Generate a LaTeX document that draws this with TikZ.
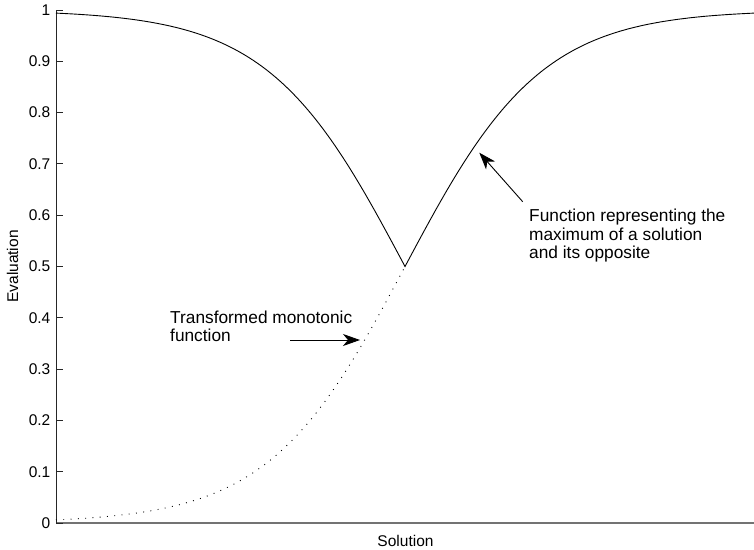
\documentclass[tikz,border=0pt]{standalone}
\usepackage{fontspec}
\setmainfont{Liberation Sans}
\usetikzlibrary{arrows.meta}
\begin{document}
\begin{tikzpicture}[x=1pt,y=-1pt,
  curve/.style={line width=0.9pt,black},
  dotcurve/.style={line width=0.9pt,black,dash pattern=on 0.9pt off 6.4pt},
  yaxis/.style={line width=0.9pt,black!85},
  xaxis/.style={line width=1.8pt,black!55},
  tickmark/.style={line width=0.9pt,black!85},
  ticklabel/.style={anchor=east,inner sep=0pt,font=\fontsize{15.5}{17}\selectfont},
  axislabel/.style={inner sep=0pt,font=\fontsize{15.5}{17}\selectfont},
  annot/.style={inner sep=0pt,align=left,font=\fontsize{17.3}{18.6}\selectfont},
  annarrow/.style={line width=0.9pt,-{Stealth[length=17pt,width=12pt,inset=5pt]}}
]
\useasboundingbox (0,0) rectangle (754,549);
% axes
\coordinate (o) at (56,523);
\coordinate (ytop) at (56,10);
\coordinate (xend) at (754,523);
\draw[xaxis] (o) -- (xend);
\draw[yaxis] (o) -- (ytop);
% ticks and labels
\foreach \v/\t [count=\i] in {0/0,0.1/0.1,0.2/0.2,0.3/0.3,0.4/0.4,0.5/0.5,0.6/0.6,0.7/0.7,0.8/0.8,0.9/0.9,1/1}{
  \coordinate (tk\i) at (56,{523-513*\v});
  \coordinate (tke\i) at (63,{523-513*\v});
  \draw[tickmark] (tk\i) -- (tke\i);
  \node[ticklabel] (tl\i) at (50.5,{523-513*\v}) {\t};
}
% curves
\draw[dotcurve] plot[domain=-1:0,samples=160,smooth] ({405+349*\x},{523-513/(1+exp(-5.1*\x))});
\draw[curve] plot[domain=-1:0,samples=160,smooth] ({405+349*\x},{523-513*(1-1/(1+exp(-5.1*\x)))})
  -- plot[domain=0:1,samples=160,smooth] ({405+349*\x},{523-513/(1+exp(-5.1*\x))});
% axis labels
\node[axislabel,anchor=base] (xlab) at (405.5,546) {Solution};
\node[axislabel,rotate=90] (ylab) at (12.5,266.5) {Evaluation};
% annotations
\node[annot,anchor=north west] (fmax) at (529,209) {Function representing the\\maximum of a solution\\and its opposite};
\node[annot,anchor=north west] (fmono) at (170,310.5) {Transformed monotonic\\function};
\coordinate (fmaxs) at (522.7,201.7);
\coordinate (fmaxt) at (479.3,152.7);
\coordinate (fmonos) at (290,340);
\coordinate (fmonot) at (360,340);
\draw[annarrow] (fmaxs) -- (fmaxt);
\draw[annarrow] (fmonos) -- (fmonot);
\end{tikzpicture}
\end{document}
